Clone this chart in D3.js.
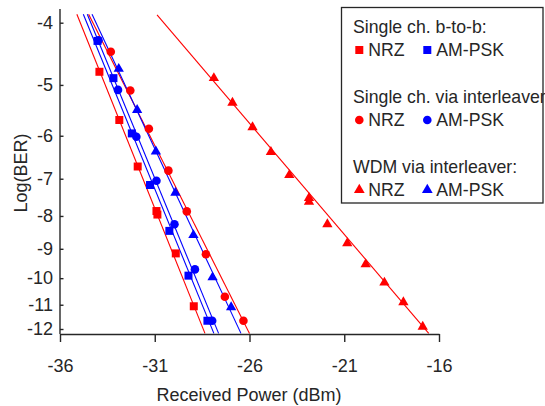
<!DOCTYPE html>
<html>
<head>
<meta charset="utf-8">
<script src="https://cdn.jsdelivr.net/npm/d3@7/dist/d3.min.js"></script>
<style>
  body { margin: 0; background: #fff; }
  svg { display: block; font-family: "Liberation Sans", Arial, sans-serif; }
</style>
</head>
<body>
<svg id="chart"></svg>
<script>
// received power (dBm) and log10(BER)

// single channel, back-to-back
const b2bNrzPower = [-33.92, -32.87, -31.90, -30.91, -30.86, -29.89, -28.94];
const b2bNrzBer = [-4.77, -5.67, -6.70, -7.86, -7.96, -9.15, -11.06];
const b2bPskPower = [-34.02, -33.18, -32.21, -31.25, -30.23, -29.22, -28.22];
const b2bPskBer = [-4.27, -4.88, -5.95, -7.16, -8.44, -9.91, -11.65];

// single channel via interleaver
const ilNrzPower = [-33.32, -32.29, -31.31, -30.28, -29.31, -28.30, -27.30, -26.32];
const ilNrzBer = [-4.44, -5.10, -5.85, -6.80, -7.87, -9.18, -10.69, -11.65];
const ilPskPower = [-33.97, -32.94, -31.97, -30.91, -29.96, -28.88, -27.97];
const ilPskBer = [-4.26, -5.09, -6.02, -7.05, -8.24, -9.69, -11.65];

// WDM via interleaver
const wdmNrzPower = [-27.88, -26.90, -25.84, -24.87, -23.90, -22.86, -22.86, -21.89, -20.84, -19.87, -18.88, -17.88, -16.86];
const wdmNrzBer = [-4.88, -5.33, -5.82, -6.36, -6.91, -7.50, -7.60, -8.24, -8.82, -9.51, -10.16, -10.90, -11.90];
const wdmPskPower = [-32.90, -31.93, -30.94, -29.91, -28.96, -27.95, -26.97];
const wdmPskBer = [-4.72, -5.47, -6.35, -7.36, -8.57, -9.97, -11.10];

// fitted lines (two end points each)
const b2bNrzFitPower = [-35.11, -28.35];
const b2bPskFitPower = [-34.77, -27.88];
const ilNrzFitPower = [-34.49, -26.00];
const ilPskFitPower = [-34.56, -27.63];
const wdmNrzFitPower = [-30.88, -16.54];
const wdmPskFitPower = [-34.31, -26.45];
const fitBer = [-3.88, -12.19];

const xTicks = [-36, -31, -26, -21, -16];
const yTicks = [-4, -5, -6, -7, -8, -9, -10, -11, -12];

const legendTitles = ["Single ch. b-to-b:", "Single ch. via interleaver", "WDM via interleaver:"];
const legendNames = ["NRZ", "AM-PSK"];

const width = 545, height = 406;
const RED = "#ff0000", BLUE = "#0000ff", INK = "#262626";

const svg = d3.select("#chart").attr("width", width).attr("height", height);

const x = d3.scaleLinear().domain([-36, -16]).range([60, 439]);
// BER axis: log of -log10(BER)
const yLog = d3.scaleLog().domain([4, 12]).range([22.7, 329]);
const y = v => yLog(-v);

const zip = (px, py) => px.map((p, i) => ({ p: p, b: py[i] }));

const series = [
    { pts: zip(b2bNrzPower, b2bNrzBer), fit: zip(b2bNrzFitPower, fitBer), color: RED, shape: d3.symbolSquare, size: 64 },
    { pts: zip(b2bPskPower, b2bPskBer), fit: zip(b2bPskFitPower, fitBer), color: BLUE, shape: d3.symbolSquare, size: 64 },
    { pts: zip(ilNrzPower, ilNrzBer), fit: zip(ilNrzFitPower, fitBer), color: RED, shape: d3.symbolCircle, size: 58 },
    { pts: zip(ilPskPower, ilPskBer), fit: zip(ilPskFitPower, fitBer), color: BLUE, shape: d3.symbolCircle, size: 58 },
    { pts: zip(wdmNrzPower, wdmNrzBer), fit: zip(wdmNrzFitPower, [-3.89, -12.19]), color: RED, shape: d3.symbolTriangle, size: 46 },
    { pts: zip(wdmPskPower, wdmPskBer), fit: zip(wdmPskFitPower, fitBer), color: BLUE, shape: d3.symbolTriangle, size: 46 }
];

const line = d3.line().x(d => x(d.p)).y(d => y(d.b));

// fit lines
svg.append("g").selectAll("path")
    .data(series)
    .join("path")
    .attr("fill", "none")
    .attr("stroke", d => d.color)
    .attr("stroke-width", 1.1)
    .attr("d", d => line(d.fit));

// markers
series.forEach(s => {
    svg.append("g").selectAll("path")
        .data(s.pts)
        .join("path")
        .attr("transform", d => `translate(${x(d.p)},${y(d.b)})`)
        .attr("fill", s.color)
        .attr("d", d3.symbol().type(s.shape).size(s.size));
});

// x axis
const xAxisY = 334;
const xAxis = svg.append("g")
    .attr("transform", `translate(0,${xAxisY})`)
    .call(d3.axisBottom(x).tickValues(xTicks).tickSize(8).tickSizeOuter(0).tickFormat(d => String(d)));
xAxis.select(".domain").attr("stroke", INK).attr("stroke-width", 1.4);
xAxis.selectAll(".tick line").attr("stroke", INK).attr("stroke-width", 1.4);
xAxis.selectAll(".tick text")
    .attr("y", 38).attr("dy", 0)
    .attr("fill", INK).style("font-size", "18px");

svg.append("text")
    .attr("x", 249).attr("y", 401)
    .attr("text-anchor", "middle")
    .attr("fill", INK).style("font-size", "18px")
    .text("Received Power (dBm)");

// y axis, ticks pointing inward
const yAxis = svg.append("g")
    .attr("transform", "translate(60,0)")
    .call(d3.axisLeft(yLog).tickValues(yTicks.map(v => -v)).tickSize(-3.5).tickPadding(7).tickFormat(v => "-" + v));
yAxis.select(".domain").attr("d", `M0,9V${xAxisY}`).attr("stroke", INK).attr("stroke-width", 1.4);
yAxis.selectAll(".tick line").attr("stroke", INK).attr("stroke-width", 1.4);
yAxis.selectAll(".tick text").attr("fill", INK).style("font-size", "18px");

svg.append("text")
    .attr("transform", "translate(27,173) rotate(-90)")
    .attr("text-anchor", "middle")
    .attr("fill", INK).style("font-size", "18px")
    .text("Log(BER)");

// legend
const legend = svg.append("g");
const shapes = [d3.symbolSquare, d3.symbolCircle, d3.symbolTriangle];
const shapeSizes = [64, 58, 50];
legendTitles.forEach((t, i) => {
    const top = 26.7 + i * 70;
    legend.append("text")
        .attr("x", 353).attr("y", top + 6.4)
        .attr("fill", INK).style("font-size", "17.7px")
        .text(t);
    legendNames.forEach((n, j) => {
        const mx = 359.3 + j * 68;
        legend.append("path")
            .attr("transform", `translate(${mx},${top + 23.3})`)
            .attr("fill", j === 0 ? RED : BLUE)
            .attr("d", d3.symbol().type(shapes[i]).size(shapeSizes[i]));
        legend.append("text")
            .attr("x", mx + 9).attr("y", top + 23.3 + 6.4)
            .attr("fill", INK).style("font-size", "17.7px")
            .text(n);
    });
});
legend.append("rect")
    .attr("x", 341.5).attr("y", 7.5)
    .attr("width", 201.5).attr("height", 195.5)
    .attr("fill", "none")
    .attr("stroke", INK).attr("stroke-width", 1.3);
</script>
</body>
</html>
